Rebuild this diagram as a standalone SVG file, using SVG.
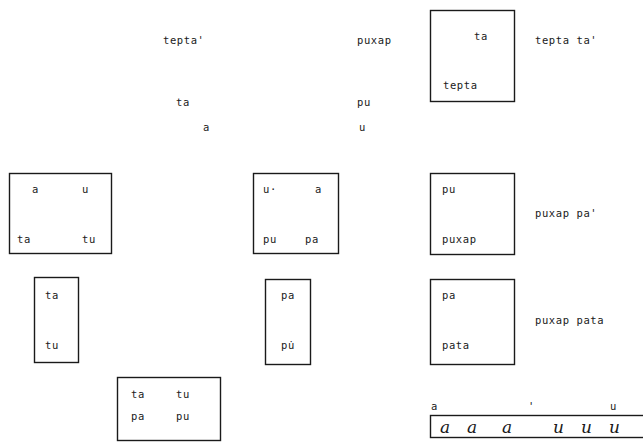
<svg xmlns="http://www.w3.org/2000/svg" width="643" height="446" viewBox="0 0 643 446">
  <style>
    .bg { fill: #ffffff; }
    .box { fill: none; stroke: #1a1a1a; stroke-width: 1.4; }
    .t { font-family: "DejaVu Sans Mono", "Liberation Mono", monospace; font-size: 10.5px; fill: #1a1a1a; letter-spacing: 0.6px; }
    .hand { font-family: "DejaVu Serif", "Liberation Serif", serif; font-style: italic; font-size: 17px; fill: #1a1a1a; }
  </style>
  <rect class="bg" x="0" y="0" width="643" height="446"/>

  <!-- free-standing words, upper left -->
  <g id="words">
    <text class="t" x="163" y="44">tepta'</text>
    <text class="t" x="357" y="44">puxap</text>
    <text class="t" x="176" y="106">ta</text>
    <text class="t" x="357" y="106">pu</text>
    <text class="t" x="203" y="131">a</text>
    <text class="t" x="359" y="131">u</text>
  </g>

  <!-- tepta / ta -->
  <g id="box-tepta">
    <rect class="box" x="430.5" y="10.5" width="84" height="91"/>
    <text class="t" x="474" y="40">ta</text>
    <text class="t" x="443" y="89">tepta</text>
  </g>
  <g id="label-tepta-ta">
    <text class="t" x="535" y="44">tepta ta'</text>
  </g>

  <!-- a u / ta tu -->
  <g id="box-a-u">
    <rect class="box" x="9.5" y="173.5" width="102" height="80"/>
    <text class="t" x="32" y="193">a</text>
    <text class="t" x="82" y="193">u</text>
    <text class="t" x="17" y="243">ta</text>
    <text class="t" x="82" y="243">tu</text>
  </g>

  <!-- u a / pu pa -->
  <g id="box-pu-pa">
    <rect class="box" x="253.5" y="173.5" width="85" height="80"/>
    <text class="t" x="263" y="193">u·</text>
    <text class="t" x="315" y="193">a</text>
    <text class="t" x="263" y="243">pu</text>
    <text class="t" x="305" y="243">pa</text>
  </g>

  <!-- pu / puxap -->
  <g id="box-puxap">
    <rect class="box" x="430.5" y="173.5" width="84" height="81"/>
    <text class="t" x="442" y="193">pu</text>
    <text class="t" x="442" y="243">puxap</text>
  </g>
  <g id="label-puxap-pa">
    <text class="t" x="535" y="217">puxap pa'</text>
  </g>

  <!-- ta / tu -->
  <g id="box-ta-tu">
    <rect class="box" x="34.5" y="277.5" width="44" height="85"/>
    <text class="t" x="45" y="299">ta</text>
    <text class="t" x="45" y="349">tu</text>
  </g>

  <!-- pa / pu -->
  <g id="box-pa-pu">
    <rect class="box" x="265.5" y="279.5" width="45" height="85"/>
    <text class="t" x="281" y="299">pa</text>
    <text class="t" x="281" y="349">pu̇</text>
  </g>

  <!-- pa / pata -->
  <g id="box-pata">
    <rect class="box" x="430.5" y="279.5" width="84" height="85"/>
    <text class="t" x="442" y="299">pa</text>
    <text class="t" x="442" y="349">pata</text>
  </g>
  <g id="label-puxap-pata">
    <text class="t" x="535" y="324">puxap pata</text>
  </g>

  <!-- ta tu / pa pu -->
  <g id="box-grid">
    <rect class="box" x="117.5" y="377.5" width="103" height="63"/>
    <text class="t" x="131" y="398">ta</text>
    <text class="t" x="176" y="398">tu</text>
    <text class="t" x="131" y="420">pa</text>
    <text class="t" x="176" y="420">pu</text>
  </g>

  <!-- handwritten strip -->
  <g id="strip">
    <text class="t" x="431" y="410">a</text>
    <text class="t" x="528" y="410">'</text>
    <text class="t" x="610" y="410">u</text>
    <rect class="box" x="430.5" y="415.5" width="216" height="22"/>
    <text class="hand" x="440" y="433">a</text>
    <text class="hand" x="467" y="433">a</text>
    <text class="hand" x="502" y="433">a</text>
    <text class="hand" x="553" y="433">u</text>
    <text class="hand" x="581" y="433">u</text>
    <text class="hand" x="609" y="433">u</text>
  </g>

  <g id="connectors"></g>
</svg>
